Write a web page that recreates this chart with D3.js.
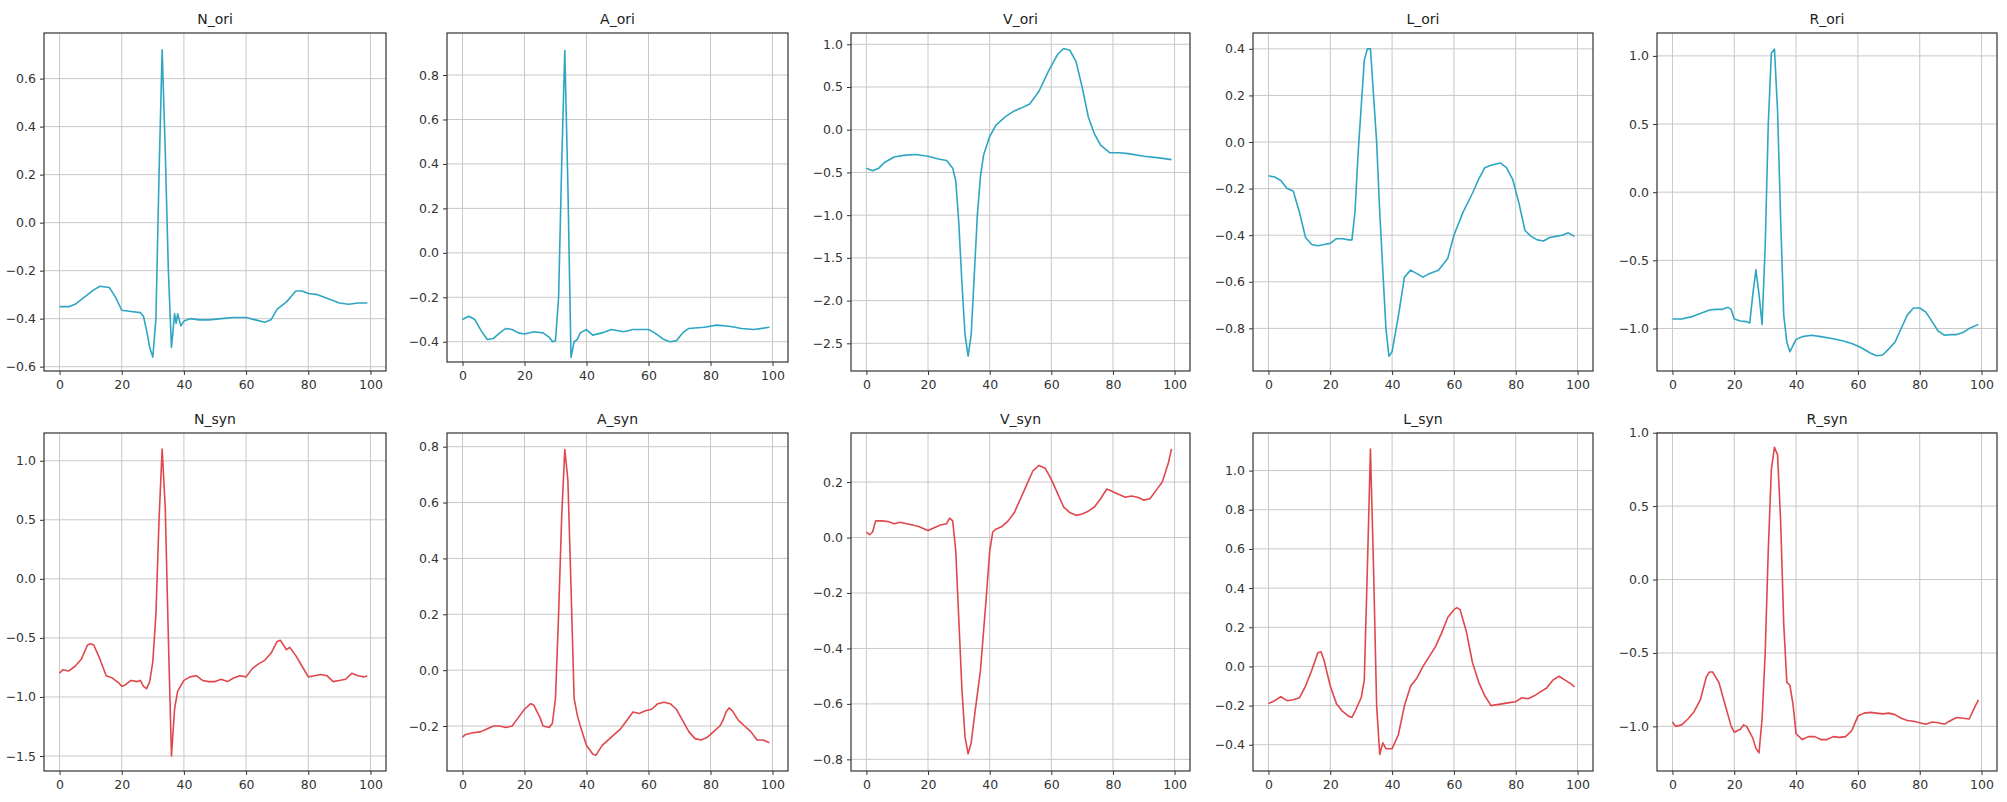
<!DOCTYPE html>
<html><head><meta charset="utf-8">
<script src="https://cdn.jsdelivr.net/npm/d3@7"></script>
<style>body{margin:0;background:#fff}</style></head>
<body><svg id="c" width="2007" height="802"></svg>
<script>
const titles = ["N_ori","A_ori","V_ori","L_ori","R_ori","N_syn","A_syn","V_syn","L_syn","R_syn"];
const xTicks = [0,20,40,60,80,100];
const yTicks = [
 [-0.6,-0.4,-0.2,0.0,0.2,0.4,0.6],
 [-0.4,-0.2,0.0,0.2,0.4,0.6,0.8],
 [-2.5,-2.0,-1.5,-1.0,-0.5,0.0,0.5,1.0],
 [-0.8,-0.6,-0.4,-0.2,0.0,0.2,0.4],
 [-1.0,-0.5,0.0,0.5,1.0],
 [-1.5,-1.0,-0.5,0.0,0.5,1.0],
 [-0.2,0.0,0.2,0.4,0.6,0.8],
 [-0.8,-0.6,-0.4,-0.2,0.0,0.2],
 [-0.4,-0.2,0.0,0.2,0.4,0.6,0.8,1.0],
 [-1.0,-0.5,0.0,0.5,1.0]
];
const yDomains = [[-0.618,0.79],[-0.491,0.989],[-2.824,1.132],[-0.983,0.468],[-1.312,1.168],
                  [-1.627,1.235],[-0.361,0.849],[-0.842,0.377],[-0.534,1.192],[-1.304,0.998]];
const N_ori = [[0,-0.35],[3,-0.35],[5,-0.34],[8,-0.31],[11,-0.28],[13,-0.265],[16,-0.27],[18,-0.31],[20,-0.365],[23,-0.37],[26,-0.375],[27,-0.39],[28,-0.45],[29,-0.52],[30,-0.56],[31,-0.4],[32,0.2],[33,0.72],[34,0.3],[35,-0.2],[36,-0.52],[37,-0.38],[37.5,-0.42],[38,-0.38],[39,-0.43],[40,-0.41],[42,-0.4],[45,-0.405],[48,-0.405],[52,-0.4],[56,-0.395],[60,-0.395],[63,-0.405],[66,-0.415],[68,-0.405],[70,-0.36],[73,-0.33],[76,-0.285],[78,-0.285],[80,-0.295],[83,-0.3],[86,-0.315],[90,-0.335],[93,-0.34],[96,-0.335],[99,-0.335]];
const A_ori = [[0,-0.3],[2,-0.285],[4,-0.3],[6,-0.35],[8,-0.39],[10,-0.385],[12,-0.36],[14,-0.34],[16,-0.345],[18,-0.36],[20,-0.365],[23,-0.355],[26,-0.36],[28,-0.38],[29,-0.4],[30,-0.395],[31,-0.2],[32,0.4],[33,0.91],[34,0.3],[35,-0.47],[36,-0.4],[37,-0.39],[38,-0.36],[40,-0.345],[42,-0.37],[45,-0.36],[48,-0.345],[52,-0.355],[55,-0.345],[60,-0.345],[62,-0.36],[65,-0.39],[67,-0.4],[69,-0.395],[71,-0.36],[73,-0.34],[78,-0.335],[82,-0.325],[86,-0.33],[90,-0.34],[94,-0.345],[99,-0.335]];
const V_ori = [[0,-0.45],[2,-0.48],[4,-0.45],[6,-0.38],[9,-0.32],[12,-0.3],[16,-0.29],[20,-0.31],[23,-0.34],[26,-0.36],[28,-0.45],[29,-0.6],[30,-1.1],[31,-1.8],[32,-2.4],[33,-2.65],[34,-2.4],[35,-1.7],[36,-1.0],[37,-0.55],[38,-0.3],[40,-0.08],[42,0.05],[45,0.15],[48,0.22],[50,0.25],[53,0.3],[56,0.45],[59,0.68],[62,0.88],[64,0.95],[66,0.93],[68,0.8],[70,0.5],[72,0.15],[74,-0.05],[76,-0.18],[79,-0.27],[82,-0.27],[85,-0.28],[90,-0.31],[95,-0.33],[99,-0.35]];
const L_ori = [[0,-0.145],[2,-0.15],[4,-0.165],[6,-0.2],[8,-0.21],[10,-0.3],[12,-0.41],[14,-0.44],[16,-0.445],[18,-0.44],[20,-0.435],[22,-0.415],[24,-0.415],[26,-0.42],[27,-0.42],[28,-0.3],[29,-0.05],[30,0.15],[31,0.35],[32,0.4],[33,0.4],[34,0.2],[35,0.0],[36,-0.3],[37,-0.55],[38,-0.8],[39,-0.92],[40,-0.9],[42,-0.75],[44,-0.58],[46,-0.55],[48,-0.565],[50,-0.58],[52,-0.565],[55,-0.55],[58,-0.5],[60,-0.4],[63,-0.3],[66,-0.22],[68,-0.16],[70,-0.11],[72,-0.1],[75,-0.09],[77,-0.11],[79,-0.16],[81,-0.26],[83,-0.38],[85,-0.405],[87,-0.42],[89,-0.425],[91,-0.41],[93,-0.405],[95,-0.4],[97,-0.39],[99,-0.405]];
const R_ori = [[0,-0.93],[3,-0.93],[6,-0.915],[9,-0.89],[12,-0.865],[14,-0.86],[16,-0.86],[18,-0.845],[19,-0.86],[20,-0.93],[22,-0.945],[24,-0.95],[25,-0.96],[26,-0.75],[27,-0.57],[28,-0.75],[29,-0.97],[30,-0.4],[31,0.5],[32,1.02],[33,1.05],[34,0.6],[35,-0.2],[36,-0.9],[37,-1.1],[38,-1.17],[40,-1.08],[42,-1.06],[45,-1.05],[48,-1.06],[52,-1.075],[55,-1.09],[58,-1.11],[61,-1.14],[64,-1.18],[66,-1.2],[68,-1.195],[70,-1.15],[72,-1.1],[74,-1.0],[76,-0.9],[78,-0.85],[80,-0.85],[82,-0.88],[84,-0.95],[86,-1.02],[88,-1.05],[90,-1.045],[92,-1.045],[94,-1.03],[96,-1.0],[99,-0.97]];
const N_syn = [[0,-0.8],[1,-0.77],[3,-0.78],[5,-0.74],[7,-0.68],[9,-0.56],[10,-0.55],[11,-0.56],[13,-0.68],[15,-0.82],[17,-0.84],[19,-0.88],[20,-0.91],[21,-0.9],[23,-0.86],[25,-0.87],[26,-0.86],[27,-0.91],[28,-0.93],[29,-0.87],[30,-0.7],[31,-0.3],[32,0.5],[33,1.1],[34,0.6],[35,-0.5],[36,-1.5],[37,-1.1],[38,-0.95],[40,-0.86],[42,-0.83],[44,-0.82],[46,-0.86],[48,-0.87],[50,-0.87],[52,-0.85],[54,-0.87],[56,-0.84],[58,-0.82],[60,-0.83],[62,-0.76],[64,-0.72],[66,-0.69],[68,-0.63],[70,-0.53],[71,-0.52],[72,-0.56],[73,-0.6],[74,-0.58],[76,-0.65],[78,-0.74],[80,-0.83],[82,-0.82],[84,-0.81],[86,-0.82],[88,-0.87],[90,-0.86],[92,-0.85],[94,-0.8],[96,-0.82],[98,-0.83],[99,-0.82]];
const A_syn = [[0,-0.24],[1,-0.23],[3,-0.225],[6,-0.22],[8,-0.21],[10,-0.2],[12,-0.2],[14,-0.205],[16,-0.2],[18,-0.17],[20,-0.14],[22,-0.12],[23,-0.125],[25,-0.17],[26,-0.2],[28,-0.205],[29,-0.19],[30,-0.1],[31,0.2],[32,0.55],[33,0.79],[34,0.68],[35,0.3],[36,-0.1],[37,-0.16],[38,-0.2],[40,-0.27],[42,-0.3],[43,-0.305],[45,-0.27],[48,-0.24],[51,-0.21],[53,-0.18],[55,-0.15],[57,-0.155],[59,-0.145],[61,-0.14],[63,-0.12],[65,-0.115],[67,-0.12],[69,-0.14],[71,-0.18],[73,-0.22],[75,-0.245],[77,-0.25],[79,-0.24],[81,-0.22],[83,-0.2],[84,-0.18],[85,-0.15],[86,-0.135],[87,-0.145],[89,-0.18],[91,-0.2],[93,-0.22],[95,-0.25],[97,-0.25],[99,-0.26]];
const V_syn = [[0,0.02],[1,0.01],[2,0.02],[3,0.06],[5,0.06],[7,0.058],[9,0.05],[11,0.055],[13,0.05],[15,0.045],[17,0.04],[19,0.03],[20,0.025],[22,0.035],[24,0.045],[26,0.05],[27,0.07],[28,0.06],[29,-0.05],[30,-0.3],[31,-0.55],[32,-0.72],[33,-0.78],[34,-0.74],[35,-0.65],[37,-0.48],[39,-0.2],[40,-0.05],[41,0.02],[42,0.03],[44,0.04],[46,0.06],[48,0.09],[50,0.14],[52,0.19],[54,0.24],[56,0.26],[58,0.25],[60,0.21],[62,0.16],[64,0.11],[66,0.09],[68,0.08],[70,0.085],[72,0.095],[74,0.11],[76,0.14],[78,0.175],[80,0.165],[82,0.155],[84,0.145],[86,0.15],[88,0.145],[90,0.135],[92,0.14],[94,0.17],[96,0.2],[98,0.27],[99,0.32]];
const L_syn = [[0,-0.19],[2,-0.175],[4,-0.155],[6,-0.175],[8,-0.17],[10,-0.16],[12,-0.1],[14,-0.02],[16,0.07],[17,0.075],[18,0.03],[20,-0.1],[22,-0.19],[24,-0.23],[26,-0.255],[27,-0.26],[28,-0.23],[30,-0.16],[31,-0.07],[32,0.5],[33,1.11],[34,0.5],[35,-0.2],[36,-0.45],[37,-0.39],[38,-0.42],[40,-0.42],[42,-0.35],[44,-0.2],[46,-0.1],[48,-0.06],[50,0.0],[52,0.05],[54,0.1],[56,0.17],[58,0.25],[60,0.29],[61,0.3],[62,0.29],[64,0.18],[66,0.02],[68,-0.08],[70,-0.15],[72,-0.2],[74,-0.195],[76,-0.19],[78,-0.185],[80,-0.18],[82,-0.16],[84,-0.165],[86,-0.15],[88,-0.13],[90,-0.11],[92,-0.07],[94,-0.05],[96,-0.07],[98,-0.09],[99,-0.105]];
const R_syn = [[0,-0.97],[1,-1.0],[3,-0.99],[5,-0.95],[7,-0.9],[9,-0.82],[11,-0.66],[12,-0.63],[13,-0.63],[15,-0.7],[17,-0.85],[19,-1.0],[20,-1.04],[22,-1.02],[23,-0.99],[24,-1.0],[26,-1.08],[27,-1.15],[28,-1.18],[29,-0.95],[30,-0.5],[31,0.2],[32,0.75],[33,0.9],[34,0.85],[35,0.4],[36,-0.3],[37,-0.7],[38,-0.72],[39,-0.85],[40,-1.05],[42,-1.09],[44,-1.07],[46,-1.07],[48,-1.09],[50,-1.09],[52,-1.07],[54,-1.075],[56,-1.07],[58,-1.03],[60,-0.93],[62,-0.91],[64,-0.905],[66,-0.91],[68,-0.915],[70,-0.91],[72,-0.92],[74,-0.945],[76,-0.96],[78,-0.965],[80,-0.975],[82,-0.985],[84,-0.97],[86,-0.975],[88,-0.985],[90,-0.96],[92,-0.94],[94,-0.945],[96,-0.95],[98,-0.86],[99,-0.82]];
const series = [N_ori,A_ori,V_ori,L_ori,R_ori,N_syn,A_syn,V_syn,L_syn,R_syn];

// layout
const colX = [[44,386],[447,788],[851,1190],[1253,1593],[1657,1997]];
const rowY = [[33,371],[433,771]];
const colors = ["#2ea6c2","#e0474c"];

const svg = d3.select("#c");
series.forEach((data,i)=>{
  const r = Math.floor(i/5), c = i%5;
  const [x0,x1] = colX[c];
  let [y0,y1] = rowY[r];
  if(i===1) y1 = 362;
  const x = d3.scaleLinear().domain([-5,105]).range([x0,x1]);
  const y = d3.scaleLinear().domain(yDomains[i]).range([y1,y0]);
  const g = svg.append("g");
  // grid
  g.selectAll(".gx").data(xTicks).join("line").attr("x1",d=>x(d)).attr("x2",d=>x(d))
    .attr("y1",y0).attr("y2",y1).attr("stroke","#c8c8c8").attr("stroke-width",1);
  g.selectAll(".gy").data(yTicks[i]).join("line").attr("y1",d=>y(d)).attr("y2",d=>y(d))
    .attr("x1",x0).attr("x2",x1).attr("stroke","#c8c8c8").attr("stroke-width",1);
  // line
  g.append("path").datum(data).attr("fill","none").attr("stroke",colors[r]).attr("stroke-width",1.6)
    .attr("stroke-linejoin","round")
    .attr("d",d3.line().x(d=>x(d[0])).y(d=>y(d[1])));
  // axes
  const fmt = d=> (d<0?"\u2212":"")+Math.abs(d).toFixed(1);
  const ax = g.append("g").attr("transform",`translate(0,${y1})`)
    .call(d3.axisBottom(x).tickValues(xTicks).tickSize(4).tickPadding(5).tickFormat(d3.format("d")));
  const ay = g.append("g").attr("transform",`translate(${x0},0)`)
    .call(d3.axisLeft(y).tickValues(yTicks[i]).tickSize(4).tickPadding(4).tickFormat(fmt));
  [ax,ay].forEach(a=>{
    a.select(".domain").remove();
    a.selectAll("line").attr("stroke","#333");
    a.selectAll("text").attr("font-family","DejaVu Sans").attr("font-size",12.5).attr("fill","#333");
  });
  g.append("rect").attr("x",x0).attr("y",y0).attr("width",x1-x0).attr("height",y1-y0)
    .attr("fill","none").attr("stroke","#333").attr("stroke-width",1.2);
  g.append("text").attr("x",(x0+x1)/2).attr("y",y0-9).attr("text-anchor","middle")
    .attr("font-family","DejaVu Sans").attr("font-size",14).attr("fill","#222").text(titles[i]);
});
</script></body></html>
